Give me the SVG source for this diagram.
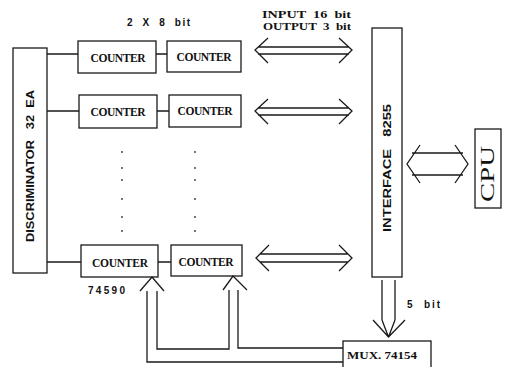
<svg xmlns="http://www.w3.org/2000/svg" width="506" height="367" viewBox="0 0 506 367">
<style>
text{white-space:pre}
.box{fill:none;stroke:#1a1a1a;stroke-width:1.3}
.ln{fill:none;stroke:#1a1a1a;stroke-width:1.3;stroke-linejoin:miter}
.ctr{font-family:"Liberation Serif",serif;font-weight:bold;font-size:11.5px;fill:#111;text-anchor:middle}
.lbl{font-family:"Liberation Sans",sans-serif;font-weight:bold;font-size:10px;fill:#111}
.lbs{font-family:"Liberation Serif",serif;font-weight:bold;font-size:11px;fill:#111}
.dot{fill:#333}
</style>
<rect width="506" height="367" fill="#fff"/>
<g id="discriminator">
<rect class="box" x="13" y="48" width="34" height="225"/>
<text class="lbl" transform="translate(34,166) rotate(-90)" text-anchor="middle" font-size="11" textLength="152" lengthAdjust="spacingAndGlyphs">DISCRIMINATOR   32  EA</text>
</g>
<g id="counter-1a"><rect class="box" x="78" y="41" width="78" height="32"/><text class="ctr" x="118" y="62" textLength="55">COUNTER</text></g>
<g id="counter-1b"><rect class="box" x="167" y="41" width="74" height="31"/><text class="ctr" x="204" y="61" textLength="55">COUNTER</text></g>
<g id="counter-2a"><rect class="box" x="79" y="95" width="78" height="33"/><text class="ctr" x="118" y="116" textLength="55">COUNTER</text></g>
<g id="counter-2b"><rect class="box" x="169" y="95" width="72" height="32"/><text class="ctr" x="205" y="115" textLength="55">COUNTER</text></g>
<g id="counter-3a"><rect class="box" x="81" y="245" width="77" height="32"/><text class="ctr" x="120" y="267" textLength="56">COUNTER</text></g>
<g id="counter-3b"><rect class="box" x="171" y="245" width="71" height="31"/><text class="ctr" x="206" y="266" textLength="55">COUNTER</text></g>
<g id="interface">
<rect class="box" x="372" y="28" width="30" height="249"/>
<text class="lbl" transform="translate(391,168) rotate(-90)" text-anchor="middle" font-size="11" textLength="128" lengthAdjust="spacingAndGlyphs">INTERFACE   8255</text>
</g>
<g id="cpu">
<rect class="box" x="475" y="129" width="26" height="79"/>
<text transform="translate(494,174) rotate(-90)" text-anchor="middle" font-family="Liberation Serif,serif" font-size="19" fill="#111" textLength="56" lengthAdjust="spacingAndGlyphs">CPU</text>
</g>
<g id="mux">
<rect class="box" x="343" y="341" width="88" height="30"/>
<text class="lbs" x="347" y="359" textLength="70" lengthAdjust="spacingAndGlyphs">MUX. 74154</text>
</g>
<g id="labels">
<text class="lbl" x="127" y="26" textLength="63" lengthAdjust="spacing">2  X  8  bit</text>
<text class="lbs" x="262" y="18" textLength="89" lengthAdjust="spacingAndGlyphs">INPUT  16  bit</text>
<text class="lbs" x="263" y="30" textLength="88" lengthAdjust="spacingAndGlyphs">OUTPUT  3  bit</text>
<text class="lbl" x="88" y="294" textLength="37">74590</text>
<text class="lbl" x="407" y="308" textLength="33" lengthAdjust="spacing">5  bit</text>
</g>
<g id="dots">
<circle class="dot" cx="122" cy="152" r="0.9"/><circle class="dot" cx="122" cy="168" r="0.9"/><circle class="dot" cx="122" cy="180" r="0.9"/><circle class="dot" cx="122" cy="199" r="0.9"/><circle class="dot" cx="122" cy="217" r="0.9"/><circle class="dot" cx="122" cy="231" r="0.9"/>
<circle class="dot" cx="195" cy="152" r="0.9"/><circle class="dot" cx="195" cy="168" r="0.9"/><circle class="dot" cx="195" cy="180" r="0.9"/><circle class="dot" cx="195" cy="199" r="0.9"/><circle class="dot" cx="195" cy="217" r="0.9"/><circle class="dot" cx="195" cy="231" r="0.9"/>
</g>
<g id="connectors">
<path class="ln" d="M47 54H78M156 54H167"/>
<path class="ln" d="M47 111H79M157 111H169"/>
<path class="ln" d="M47 262H81M158 262H171"/>
<path class="ln" d="M268 38L255 50L268 63M339 38L352 50L339 63M258 47H349M258 54H349"/>
<path class="ln" d="M268 99L255 111L268 124M339 99L352 111L339 124M258 108H349M258 115H349"/>
<path class="ln" d="M269 245L256 258L269 271M339 245L352 258L339 271M260 254H348M260 262H348"/>
<path class="ln" d="M420 145L407 164L420 183M455 145L468 164L455 183M412 153H463M412 175H463"/>
<path class="ln" d="M382 280V320M395 280V320M373 320L388.5 337L405 320M382 320L388.5 337M395 320L388.5 337"/>
<path class="ln" d="M140 291L152 277L164 291M147 291V362H343M157 291V349H229V290M223 290L233 276L247 290M238 290V348H343"/>
</g>
</svg>
